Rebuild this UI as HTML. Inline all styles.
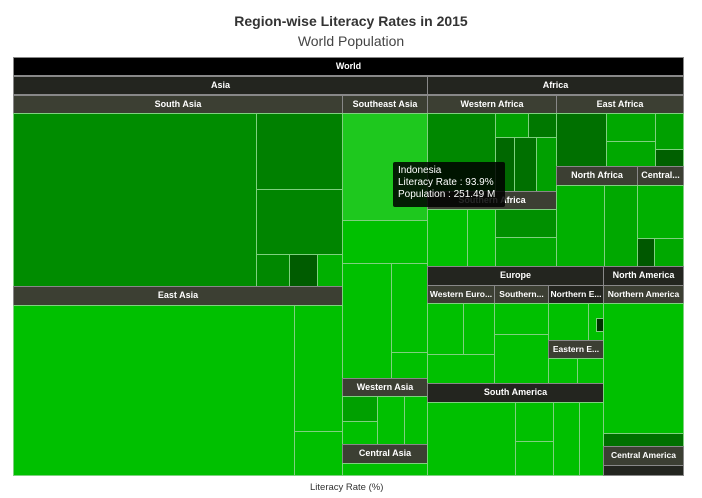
<!DOCTYPE html>
<html><head><meta charset="utf-8"><style>
body{margin:0;width:702px;height:498px;background:#fff;font-family:"Liberation Sans",sans-serif;position:relative;overflow:hidden}
.b{position:absolute;box-sizing:border-box;border:1px solid #7fd07f;background:#00c000}
.h{position:absolute;box-sizing:border-box;border:1px solid #888;color:#fff;font-weight:bold;font-size:9px;text-align:center;line-height:17px;white-space:nowrap;overflow:hidden;background:#3c3f33}
.d{background:#23251f}
.t{position:absolute;left:0;width:702px;text-align:center}
</style></head><body>
<div class="t" style="top:13px;font-size:14px;font-weight:bold;color:#333">Region-wise Literacy Rates in 2015</div>
<div class="t" style="top:33px;font-size:14px;color:#444">World Population</div>

<div class="h" style="left:13px;top:57px;width:671px;height:19px;background:#000">World</div>
<div class="h d" style="left:13px;top:76px;width:415px;height:19px">Asia</div>
<div class="h d" style="left:427px;top:76px;width:257px;height:19px">Africa</div>
<div class="h" style="left:13px;top:95px;width:330px;height:19px">South Asia</div>
<div class="h" style="left:342px;top:95px;width:86px;height:19px">Southeast Asia</div>
<div class="h" style="left:427px;top:95px;width:130px;height:19px">Western Africa</div>
<div class="h" style="left:556px;top:95px;width:128px;height:19px">East Africa</div>

<!-- South Asia -->
<div class="b" style="left:13px;top:113px;width:244px;height:174px;background:#008c00"></div>
<div class="b" style="left:256px;top:113px;width:87px;height:77px;background:#008000"></div>
<div class="b" style="left:256px;top:189px;width:87px;height:66px;background:#008500"></div>
<div class="b" style="left:256px;top:254px;width:34px;height:33px;background:#008800"></div>
<div class="b" style="left:289px;top:254px;width:29px;height:33px;background:#005c00"></div>
<div class="b" style="left:317px;top:254px;width:26px;height:33px;background:#00b000"></div>
<div class="h" style="left:13px;top:286px;width:330px;height:20px">East Asia</div>
<div class="b" style="left:13px;top:305px;width:282px;height:171px"></div>
<div class="b" style="left:294px;top:305px;width:49px;height:127px"></div>
<div class="b" style="left:294px;top:431px;width:49px;height:45px"></div>

<!-- Southeast Asia -->
<div class="b" style="left:342px;top:113px;width:86px;height:108px;background:#1ec81e"></div>
<div class="b" style="left:342px;top:220px;width:86px;height:44px"></div>
<div class="b" style="left:342px;top:263px;width:50px;height:116px"></div>
<div class="b" style="left:391px;top:263px;width:37px;height:90px"></div>
<div class="b" style="left:391px;top:352px;width:37px;height:27px"></div>
<div class="h" style="left:342px;top:378px;width:86px;height:19px">Western Asia</div>
<div class="b" style="left:342px;top:396px;width:36px;height:26px;background:#00a000"></div>
<div class="b" style="left:377px;top:396px;width:28px;height:49px"></div>
<div class="b" style="left:342px;top:421px;width:36px;height:24px"></div>
<div class="b" style="left:404px;top:396px;width:24px;height:49px"></div>
<div class="h" style="left:342px;top:444px;width:86px;height:20px">Central Asia</div>
<div class="b" style="left:342px;top:463px;width:86px;height:13px"></div>

<!-- Western Africa -->
<div class="b" style="left:427px;top:113px;width:69px;height:79px;background:#008800"></div>
<div class="b" style="left:495px;top:113px;width:34px;height:25px;background:#00a000"></div>
<div class="b" style="left:528px;top:113px;width:29px;height:25px;background:#007800"></div>
<div class="b" style="left:495px;top:137px;width:20px;height:55px;background:#006800"></div>
<div class="b" style="left:514px;top:137px;width:23px;height:55px;background:#007000"></div>
<div class="b" style="left:536px;top:137px;width:21px;height:55px;background:#00a000"></div>
<div class="h" style="left:427px;top:191px;width:130px;height:19px">Southern Africa</div>
<div class="b" style="left:427px;top:209px;width:41px;height:58px"></div>
<div class="b" style="left:467px;top:209px;width:29px;height:58px"></div>
<div class="b" style="left:495px;top:209px;width:62px;height:29px;background:#009000"></div>
<div class="b" style="left:495px;top:237px;width:62px;height:30px;background:#00a800"></div>

<!-- East Africa -->
<div class="b" style="left:556px;top:113px;width:51px;height:54px;background:#007000"></div>
<div class="b" style="left:606px;top:113px;width:50px;height:29px;background:#00a800"></div>
<div class="b" style="left:606px;top:141px;width:50px;height:26px;background:#00a800"></div>
<div class="b" style="left:655px;top:113px;width:29px;height:37px;background:#00a000"></div>
<div class="b" style="left:655px;top:149px;width:29px;height:18px;background:#006000"></div>
<div class="h" style="left:556px;top:166px;width:82px;height:20px">North Africa</div>
<div class="h" style="left:637px;top:166px;width:47px;height:20px">Central...</div>
<div class="b" style="left:556px;top:185px;width:49px;height:82px;background:#00b000"></div>
<div class="b" style="left:604px;top:185px;width:34px;height:82px;background:#00a800"></div>
<div class="b" style="left:637px;top:185px;width:47px;height:54px;background:#00b000"></div>
<div class="b" style="left:637px;top:238px;width:18px;height:29px;background:#005800"></div>
<div class="b" style="left:654px;top:238px;width:30px;height:29px;background:#00a800"></div>

<!-- Europe -->
<div class="h d" style="left:427px;top:266px;width:177px;height:20px">Europe</div>
<div class="h" style="left:427px;top:285px;width:68px;height:19px;font-size:8.5px">Western Euro...</div>
<div class="h" style="left:494px;top:285px;width:55px;height:19px;font-size:8.5px">Southern...</div>
<div class="h d" style="left:548px;top:285px;width:56px;height:19px;font-size:8.5px">Northern E...</div>
<div class="b" style="left:427px;top:303px;width:37px;height:52px"></div>
<div class="b" style="left:463px;top:303px;width:32px;height:52px"></div>
<div class="b" style="left:427px;top:354px;width:68px;height:30px"></div>
<div class="b" style="left:494px;top:303px;width:55px;height:32px"></div>
<div class="b" style="left:494px;top:334px;width:55px;height:50px"></div>
<div class="b" style="left:548px;top:303px;width:41px;height:38px"></div>
<div class="b" style="left:588px;top:303px;width:16px;height:38px"></div>
<div class="b" style="left:596px;top:318px;width:8px;height:14px;background:#003000"></div>
<div class="h" style="left:548px;top:340px;width:56px;height:19px;font-size:8.5px">Eastern E...</div>
<div class="b" style="left:548px;top:358px;width:30px;height:26px"></div>
<div class="b" style="left:577px;top:358px;width:27px;height:26px"></div>
<div class="h d" style="left:427px;top:383px;width:177px;height:20px">South America</div>
<div class="b" style="left:427px;top:402px;width:89px;height:74px"></div>
<div class="b" style="left:515px;top:402px;width:39px;height:40px"></div>
<div class="b" style="left:515px;top:441px;width:39px;height:35px"></div>
<div class="b" style="left:553px;top:402px;width:27px;height:74px"></div>
<div class="b" style="left:579px;top:402px;width:25px;height:74px"></div>

<!-- North America -->
<div class="h d" style="left:603px;top:266px;width:81px;height:20px">North America</div>
<div class="h" style="left:603px;top:285px;width:81px;height:19px;font-size:8.5px">Northern America</div>
<div class="b" style="left:603px;top:303px;width:81px;height:131px"></div>
<div class="b" style="left:603px;top:433px;width:81px;height:14px;background:#007000"></div>
<div class="h" style="left:603px;top:446px;width:81px;height:20px;font-size:8.5px">Central America</div>
<div class="b" style="left:603px;top:465px;width:81px;height:11px;background:#23251f;border-color:#888"></div>

<!-- tooltip -->
<div style="position:absolute;left:393px;top:162px;width:112px;height:45px;background:rgba(0,0,0,0.85);border-radius:2px;color:#fff;font-size:10px;line-height:12px;padding:3px 5px;box-sizing:border-box">Indonesia<br>Literacy Rate : 93.9%<br>Population : 251.49 M</div>

<div style="position:absolute;left:310px;top:482px;font-size:9.5px;color:#333">Literacy Rate (%)</div>
</body></html>
